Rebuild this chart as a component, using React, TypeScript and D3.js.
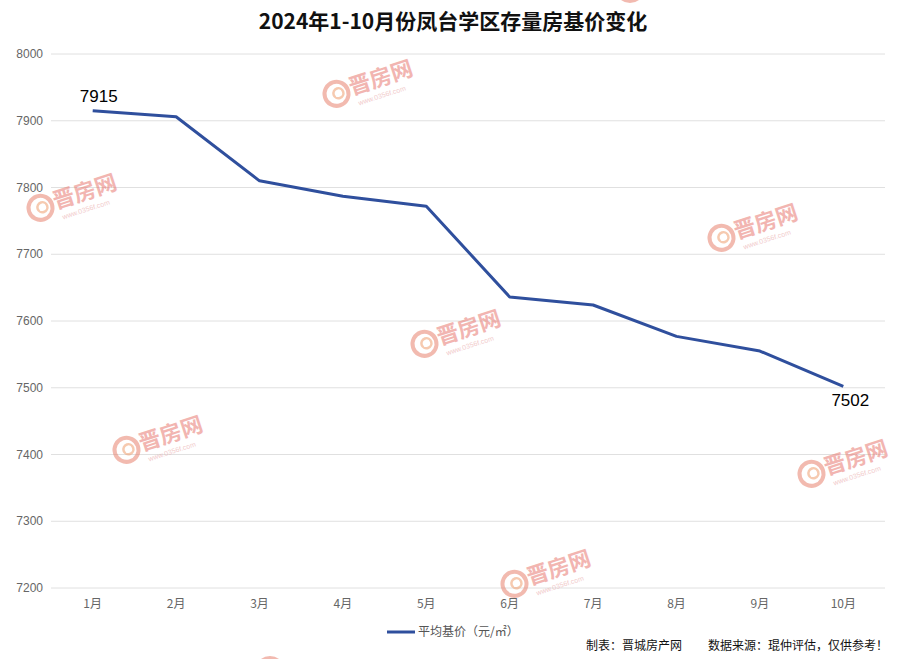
import React from "react";
import * as d3 from "d3";

const months = ["1月", "2月", "3月", "4月", "5月", "6月", "7月", "8月", "9月", "10月"];
const prices = [7915, 7906, 7810, 7787, 7772, 7636, 7624, 7577, 7555, 7502];
const yTicks = [7200, 7300, 7400, 7500, 7600, 7700, 7800, 7900, 8000];
const watermarks: [number, number][] = [
  [360, 82], [64, 196], [745, 226], [448, 332], [150, 438], [835, 462], [538, 572],
];
const partialMarks: [number, number][] = [[630, -12], [270, 671]];

const W = 899;
const H = 659;
const left = 51;
const right = 885;
const top = 54;
const bottom = 588;

function Watermark({ x, y }: { x: number; y: number }) {
  return (
    <g transform={`translate(${x},${y}) rotate(-18)`} opacity={0.55}>
      <circle cx={-26} cy={4} r={12} fill="none" stroke="#e8826f" strokeWidth={4} />
      <circle cx={-24} cy={4} r={5} fill="none" stroke="#f0a070" strokeWidth={2.5} />
      <text x={-12} y={10} fontSize={22} fontWeight="bold" fill="#e87a72"
        fontFamily="'Noto Sans CJK SC', sans-serif">晋房网</text>
      <text x={-8} y={22} fontSize={7} fill="#e8a0a0" fontFamily="Arial, sans-serif">www.0356f.com</text>
    </g>
  );
}

export default function App() {
  const x = d3.scaleBand<string>().domain(months).range([left, right]);
  const y = d3.scaleLinear().domain([7200, 8000]).range([bottom, top]);
  const line = d3
    .line<number>()
    .x((_, i) => (x(months[i]) as number) + x.bandwidth() / 2)
    .y((d) => y(d));
  const cx = (i: number) => (x(months[i]) as number) + x.bandwidth() / 2;
  const last = prices.length - 1;

  return (
    <svg width={W} height={H} style={{ position: "absolute", left: 0, top: 0, background: "#fff" }}
      fontFamily="Arial, 'Liberation Sans', sans-serif">
      <rect width={W} height={H} fill="#fff" />
      {partialMarks.map(([px, py], i) => (
        <circle key={i} cx={px} cy={py} r={13} fill="none" stroke="#e8826f" strokeWidth={4} opacity={0.55} />
      ))}
      <text x={453} y={29} textAnchor="middle" fontSize={21} fontWeight="bold" fill="#111"
        fontFamily="'Noto Sans CJK SC', sans-serif">2024年1-10月份凤台学区存量房基价变化</text>
      {yTicks.map((t) => (
        <g key={t}>
          <line x1={left} x2={right} y1={y(t)} y2={y(t)} stroke="#e0e0e0" strokeWidth={1} />
          <text x={43} y={y(t) + 4} textAnchor="end" fontSize={12} fill="#666">{t}</text>
        </g>
      ))}
      {months.map((m, i) => (
        <text key={m} x={cx(i)} y={608} textAnchor="middle" fontSize={12} fill="#666"
          fontFamily="'Noto Sans CJK SC', sans-serif">{m}</text>
      ))}
      {watermarks.map(([wx, wy], i) => (
        <Watermark key={i} x={wx} y={wy} />
      ))}
      <path d={line(prices) || ""} fill="none" stroke="#2f4f9d" strokeWidth={3} strokeLinejoin="round" />
      <text x={cx(0) + 6} y={y(prices[0]) - 9} textAnchor="middle" fontSize={17} fill="#000">{prices[0]}</text>
      <text x={cx(last) + 7} y={y(prices[last]) + 20} textAnchor="middle" fontSize={17} fill="#000">{prices[last]}</text>
      <line x1={387} x2={415} y1={632} y2={632} stroke="#2f4f9d" strokeWidth={3} />
      <text x={418} y={636} fontSize={12} fill="#555" fontFamily="'Noto Sans CJK SC', sans-serif">平均基价（元/㎡）</text>
      <text x={586} y={650} fontSize={12} fill="#111" fontFamily="'Noto Sans CJK SC', sans-serif">制表：晋城房产网</text>
      <text x={708} y={650} fontSize={12} fill="#111" fontFamily="'Noto Sans CJK SC', sans-serif">数据来源：琨仲评估，仅供参考！</text>
    </svg>
  );
}
